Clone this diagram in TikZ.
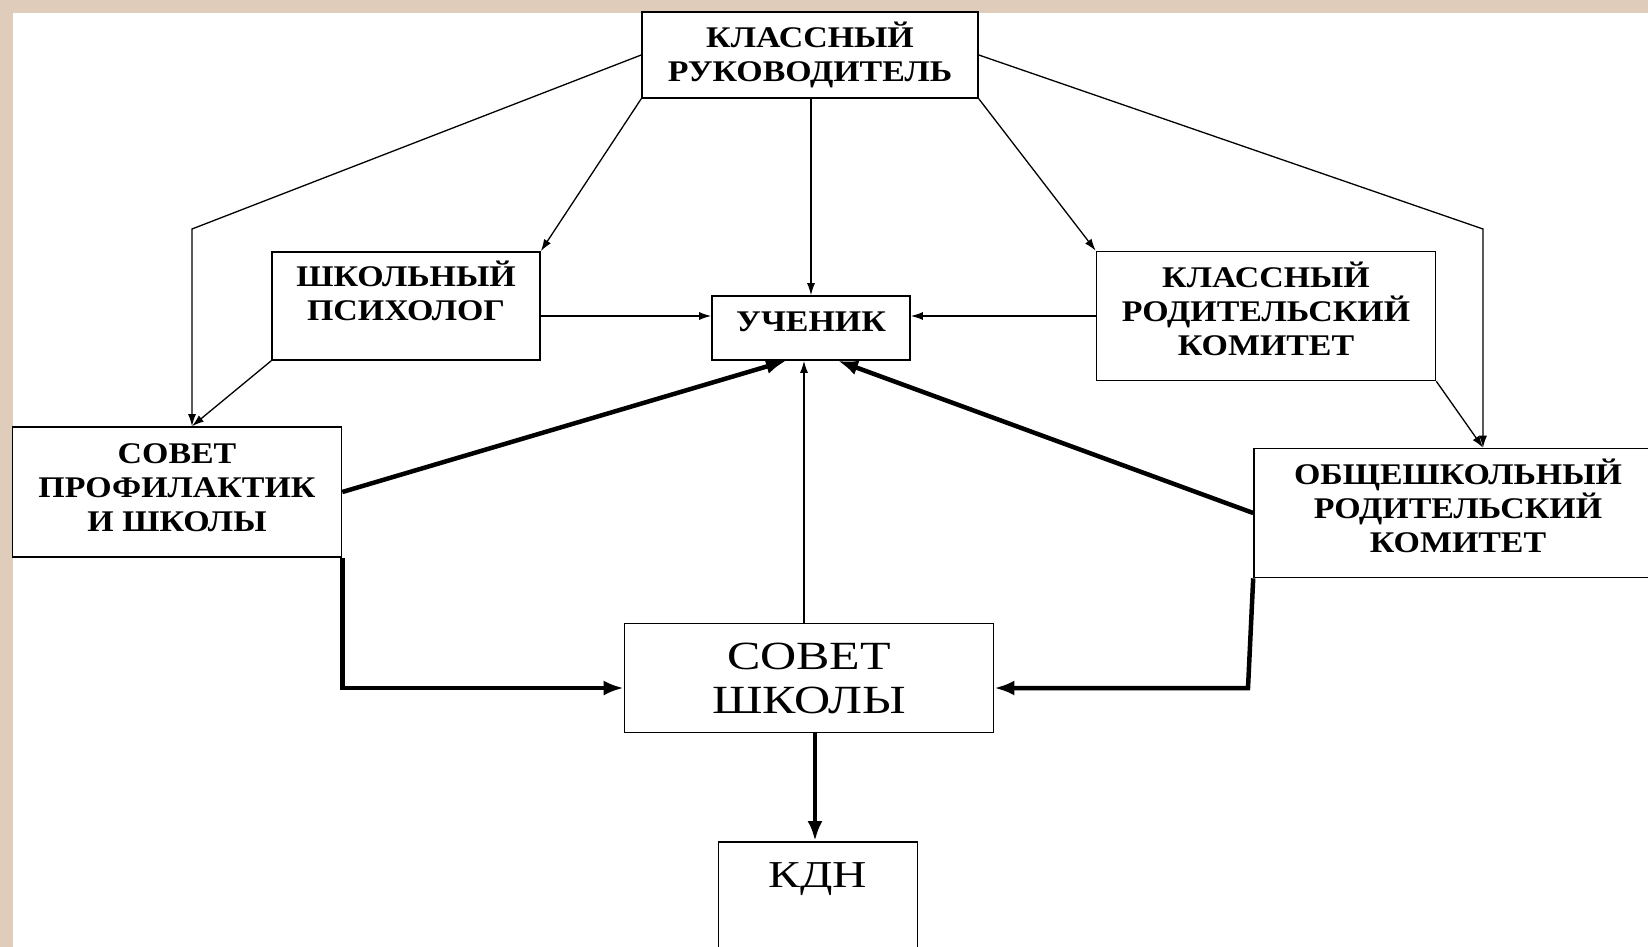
\documentclass[tikz,border=0pt]{standalone}
\usepackage{fontspec}
\setmainfont{Liberation Serif}
\newfontfamily\boxfont[FakeStretch=1.13]{Liberation Serif}
\newfontfamily\bigfont[FakeStretch=1.25]{Liberation Serif}
\usetikzlibrary{arrows.meta}
\definecolor{frame}{RGB}{224,204,186}
\tikzset{
  box/.style={draw, line width=1.6pt, fill=white, align=center, inner sep=0pt,
    font=\boxfont\bfseries\fontsize{30}{34}\selectfont},
  link/.style={line width=1.3pt, -{Latex[length=12pt,width=8pt]}},
  boldlink/.style={line width=4.5pt, -{Latex[length=20pt,width=15pt]}},
}
\begin{document}
\begin{tikzpicture}[x=1pt, y=-1pt]
    \useasboundingbox (0,0) rectangle (1648,947);
    \clip (0,0) rectangle (1648,947);
    \fill[frame] (0,0) rectangle (1648,947);
    \fill[white] (13,13) rectangle (1648,947);
    % boxes
    \node[box, minimum width=336, minimum height=86] (kr) at (810,55) {КЛАССНЫЙ\\РУКОВОДИТЕЛЬ};
    \node[box, text depth=30pt, minimum width=268, minimum height=108] (psy) at (406,306) {ШКОЛЬНЫЙ\\ПСИХОЛОГ};
    \node[box, text depth=12pt, minimum width=198, minimum height=64] (uch) at (811,328) {УЧЕНИК};
    \node[box, text depth=14pt, minimum width=339, minimum height=129] (krk) at (1266,316) {КЛАССНЫЙ\\РОДИТЕЛЬСКИЙ\\КОМИТЕТ};
    \node[box, text depth=8pt, minimum width=329, minimum height=130] (sp) at (177,492) {СОВЕТ\\ПРОФИЛАКТИК\\И ШКОЛЫ};
    \node[box, text depth=14pt, minimum width=408, minimum height=129] (ork) at (1458,513) {ОБЩЕШКОЛЬНЫЙ\\РОДИТЕЛЬСКИЙ\\КОМИТЕТ};
    \node[box, font=\bigfont\fontsize{40}{44}\selectfont, minimum width=369, minimum height=109] (ss) at (809,678) {СОВЕТ\\ШКОЛЫ};
    \node[box, minimum width=199, minimum height=160, anchor=north] (kdn) at (818,841) {};
    \node[font=\bigfont\fontsize{38}{40}\selectfont] (kdnt) at (818,879) {КДН};
    % bends and rows
    \coordinate (lbend) at (192,229);
    \coordinate (rbend) at (1483,229);
    \coordinate (row) at (0,316);
    \coordinate (low) at (0,688);
    \coordinate (mid) at (804,0);
    \coordinate (ul) at (786,0);
    \coordinate (ur) at (838,0);
    \coordinate (oturn) at (1248,688);
    \coordinate (kx) at (815,0);
    % thin links
    \draw[link] (kr.west) -- (lbend) -- (lbend |- sp.north);
    \draw[link] (psy.south west) -- (lbend |- sp.north);
    \draw[link] (kr.south west) -- (psy.north east);
    \draw[link] (uch.north |- kr.south) -- (uch.north);
    \draw[link] (kr.south east) -- (krk.north west);
    \draw[link] (kr.east) -- (rbend) -- (rbend |- ork.north);
    \draw[link] (krk.south east) -- (rbend |- ork.north);
    \draw[link] (psy.east |- row) -- (uch.west |- row);
    \draw[link] (krk.west |- row) -- (uch.east |- row);
    \draw[link] (ss.north -| mid) -- (uch.south -| mid);
    % thick links
    \draw[boldlink] (sp.east) -- (uch.south -| ul);
    \draw[boldlink] (ork.west) -- (uch.south -| ur);
    \draw[boldlink] (sp.south east) -- (sp.south east |- low) -- (ss.west |- low);
    \draw[boldlink] (ork.south west) -- (oturn) -- (ss.east |- low);
    \draw[boldlink] (ss.south -| kx) -- (kdn.north -| kx);
\end{tikzpicture}
\end{document}
